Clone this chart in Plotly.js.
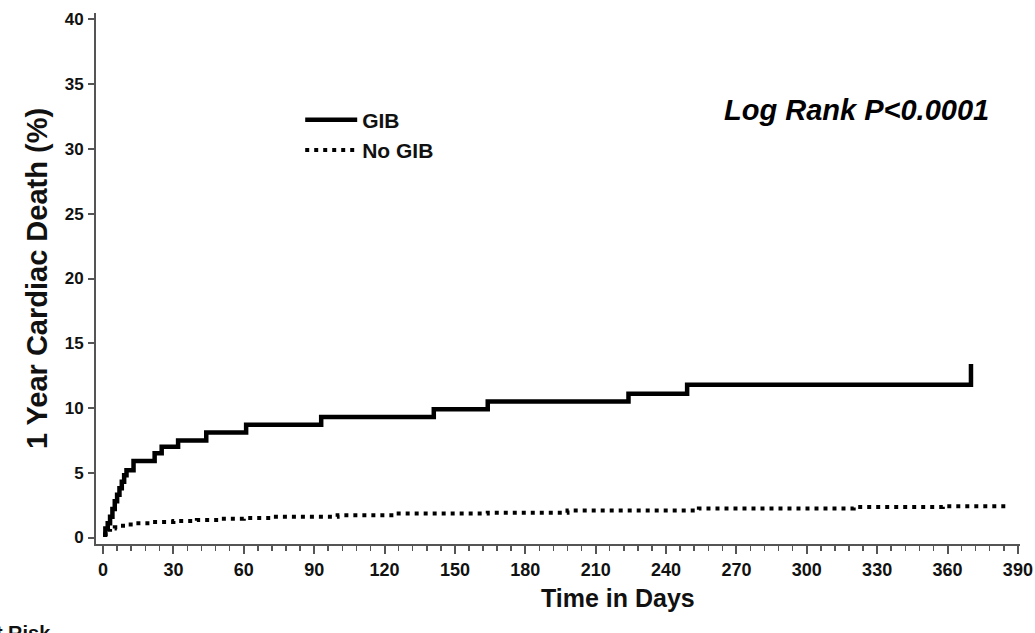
<!DOCTYPE html>
<html>
<head>
<meta charset="utf-8">
<script src="https://cdn.plot.ly/plotly-3.0.1.min.js"></script>
<style>
  html, body { margin: 0; padding: 0; background: #ffffff; }
  #chart { width: 1035px; height: 633px; }
</style>
</head>
<body>
<div id="chart"></div>
<script>
// Kaplan-Meier style cumulative cardiac death (%)
const gibDays = [0, 1, 2, 3, 4, 5, 6, 7, 8, 9, 10, 13, 22, 25, 32, 44, 61, 93, 141, 164, 224, 249, 370];
const gibPct  = [0.3, 0.7, 1.1, 1.6, 2.2, 2.8, 3.3, 3.8, 4.3, 4.8, 5.2, 5.9, 6.5, 7.0, 7.5, 8.1, 8.7, 9.3, 9.9, 10.5, 11.1, 11.8, 13.4];

const noGibDays = [0, 1, 2, 3, 5, 7, 10, 14, 20, 30, 40, 50, 60, 72, 100, 124, 164, 198, 254, 320, 358, 386];
const noGibPct  = [0.2, 0.4, 0.6, 0.7, 0.8, 0.9, 1.0, 1.1, 1.2, 1.27, 1.35, 1.45, 1.5, 1.6, 1.72, 1.85, 1.92, 2.08, 2.25, 2.35, 2.42, 2.42];

const seriesNames = ["GIB", "No GIB"];
const xTickVals = [0, 30, 60, 90, 120, 150, 180, 210, 240, 270, 300, 330, 360, 390];
const yTickVals = [0, 5, 10, 15, 20, 25, 30, 35, 40];

const titleY = "1 Year Cardiac Death (%)";
const titleX = "Time in Days";
const statText = "Log Rank P<0.0001";
const riskText = "No. at Risk";

const FONT = "Liberation Sans, Arial, sans-serif";
const AXC = "#555555";
const TXT = "#111111";

const traces = [
  {
    x: gibDays, y: gibPct, name: seriesNames[0], type: "scatter", mode: "lines",
    line: { shape: "hv", color: "#000000", width: 4.5 }
  },
  {
    x: noGibDays, y: noGibPct, name: seriesNames[1], type: "scatter", mode: "lines",
    line: { shape: "hv", color: "#000000", width: 4, dash: "4px,5px" }
  }
];

const layout = {
  width: 1035, height: 633,
  margin: { l: 96, r: 15, t: 13, b: 89 },
  paper_bgcolor: "#ffffff", plot_bgcolor: "#ffffff",
  showlegend: true,
  legend: {
    x: 0.221, y: 0.837, xanchor: "left", yanchor: "top",
    font: { family: FONT, size: 21, color: TXT, weight: "bold" },
    bgcolor: "rgba(0,0,0,0)", borderwidth: 0, itemwidth: 52
  },
  xaxis: {
    range: [-3, 390.9],
    tickmode: "array", tickvals: xTickVals, ticktext: xTickVals.map(String),
    ticks: "outside", ticklen: 8, tickwidth: 2, tickcolor: AXC,
    minor: { dtick: 6, tick0: 0, ticks: "outside", ticklen: 5, tickwidth: 1.5, tickcolor: AXC },
    showline: true, linecolor: AXC, linewidth: 2,
    showgrid: false, zeroline: false,
    ticklabelstandoff: 0,
    tickfont: { family: FONT, size: 18, color: TXT, weight: "bold" }
  },
  yaxis: {
    range: [-0.5, 40.5],
    tickmode: "array", tickvals: yTickVals, ticktext: yTickVals.map(String),
    ticks: "outside", ticklen: 6, tickwidth: 2, tickcolor: AXC,
    showline: true, linecolor: AXC, linewidth: 2,
    showgrid: false, zeroline: false,
    ticklabelstandoff: 1,
    tickfont: { family: FONT, size: 17, color: TXT, weight: "bold" },
    title: { text: titleY, font: { family: FONT, size: 29, color: TXT, weight: "bold" }, standoff: 9 }
  },
  annotations: [
    {
      text: statText, xref: "paper", yref: "paper", x: 0.6775, y: 0.817,
      xanchor: "left", yanchor: "middle", showarrow: false,
      font: { family: FONT, size: 29, color: "#000000", weight: "bold", style: "italic" }
    },
    {
      text: titleX, xref: "paper", yref: "paper", x: 0.565, y: -0.1017,
      xanchor: "center", yanchor: "middle", showarrow: false,
      font: { family: FONT, size: 25, color: TXT, weight: "bold" }
    },
    {
      text: riskText, xref: "paper", yref: "paper", x: -0.0465, y: -0.143,
      xanchor: "right", yanchor: "top", showarrow: false,
      font: { family: FONT, size: 20, color: TXT, weight: "bold" }
    }
  ]
};

Plotly.newPlot("chart", traces, layout, { displayModeBar: false, staticPlot: true });
</script>
</body>
</html>
